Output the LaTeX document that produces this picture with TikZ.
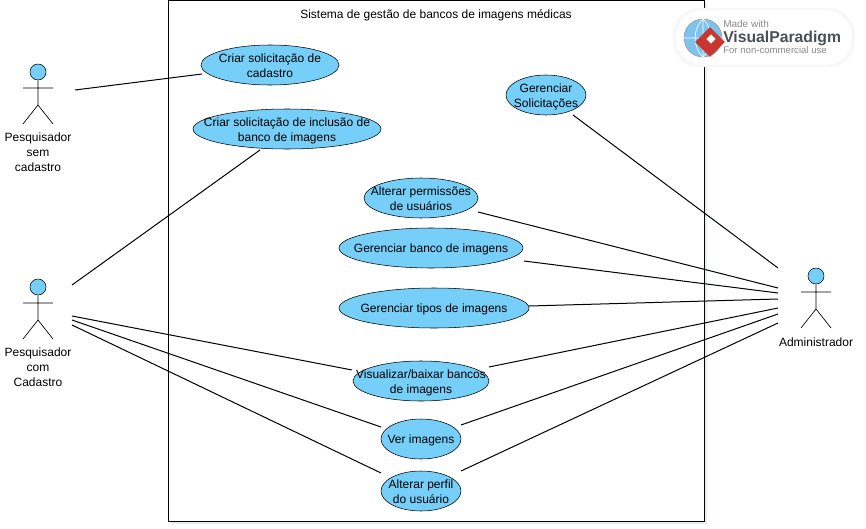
\documentclass[tikz,border=0pt]{standalone}
\usepackage{fontspec}
\setmainfont{Liberation Sans}
\usepackage{tikz}
\usetikzlibrary{shapes.geometric}
\definecolor{ucblue}{HTML}{75CFF8}
\definecolor{vpgray}{HTML}{8A8A8A}
\definecolor{vpdark}{HTML}{4A4F55}
\definecolor{vpred}{HTML}{C8362F}
\definecolor{vpglobe}{HTML}{7CC4EE}
\definecolor{shadowblue}{HTML}{E6EDF5}
\newcommand{\uctext}[1]{\smash{\makebox[0pt]{\raisebox{-3.75pt}{\begin{tabular}{@{}c@{}}#1\end{tabular}}}}}

\begin{document}
\begin{tikzpicture}[x=0.75pt,y=-0.75pt,
  font=\fontsize{9}{11.2}\selectfont,
  usecase/.style={ellipse,draw,fill=ucblue,inner sep=0pt,minimum height=30pt},
  conn/.style={black,line width=0.75pt},
  lbl/.style={align=center,inner sep=0pt},
  actor/.pic={
    \node[circle,draw,fill=ucblue,inner sep=0pt,minimum size=12pt] (-head) at (0,0) {};
    \draw[line width=0.5pt] (-head.south) -- (0,33) (-15,16) -- (15,16) (-15,52) -- (0,33) -- (15,52);
  }]
\useasboundingbox (0,0) rectangle (866,528);

% system boundary
\fill[shadowblue] (171,3) rectangle (707,524);
\node[draw,fill=white,line width=0.75pt,minimum width=402pt,minimum height=390.4pt,inner sep=0pt,outer sep=0pt] (sys) at (436,260.8) {};
\node[lbl] (title) at (436,15) {Sistema de gestão de bancos de imagens médicas};

% actors
\pic (semcad) at (38,72) {actor};
\pic (comcad) at (38,287) {actor};
\pic (admin) at (816,276) {actor};
\node[lbl] (semcadl) at (38,152.5) {Pesquisador\\sem\\cadastro};
\node[lbl] (comcadl) at (38,367.5) {Pesquisador\\com\\Cadastro};
\node[lbl] (adminl) at (816,342.5) {Administrador};

% use cases
\node[usecase,minimum width=103.5pt] (criarcad) at (270,65) {\uctext{Criar solicitação de\\cadastro}};
\node[usecase,minimum width=141pt] (inclusao) at (287,129) {\uctext{Criar solicitação de inclusão de\\banco de imagens}};
\node[usecase,minimum width=60pt] (gersol) at (546,95) {\uctext{Gerenciar\\Solicitações}};
\node[usecase,minimum width=85.5pt] (permissoes) at (421,198) {\uctext{Alterar permissões\\de usuários}};
\node[usecase,minimum width=138pt] (gerbanco) at (431,248) {\uctext{Gerenciar banco de imagens}};
\node[usecase,minimum width=142.5pt] (gertipos) at (434,308) {\uctext{Gerenciar tipos de imagens}};
\node[usecase,minimum width=102pt] (visualizar) at (421,381) {\uctext{Visualizar/baixar bancos\\de imagens}};
\node[usecase,minimum width=60pt] (verimg) at (421,439) {\uctext{Ver imagens}};
\node[usecase,minimum width=60pt] (perfil) at (421,491) {\uctext{Alterar perfil\\do usuário}};

% free ends at the actors
\coordinate (s1) at (75,90);
\coordinate (c1) at (72,285);
\coordinate (c2) at (72,316);
\coordinate (c3) at (72,320);
\coordinate (c4) at (72,325);
\coordinate (a1) at (778,268);
\coordinate (a2) at (778,288);
\coordinate (a3) at (778,293);
\coordinate (a4) at (778,299);
\coordinate (a5) at (778,308);
\coordinate (a6) at (778,314);
\coordinate (a7) at (778,323);

% connectors
\draw[conn] (s1) -- ([shift={(-68,9)}]criarcad.center);
\draw[conn] (c1) -- ([shift={(-27,21)}]inclusao.center);
\draw[conn] (c2) -- ([shift={(-69,-11)}]visualizar.center);
\draw[conn] (c3) -- ([shift={(-40,-12)}]verimg.center);
\draw[conn] (c4) -- ([shift={(-40,-18)}]perfil.center);
\draw[conn] (a1) -- ([shift={(27,20)}]gersol.center);
\draw[conn] (a2) -- ([shift={(57,14)}]permissoes.center);
\draw[conn] (a3) -- ([shift={(93,13)}]gerbanco.center);
\draw[conn] (a4) -- ([shift={(95,-2)}]gertipos.center);
\draw[conn] (a5) -- ([shift={(68,-14)}]visualizar.center);
\draw[conn] (a6) -- ([shift={(40,-14)}]verimg.center);
\draw[conn] (a7) -- ([shift={(40,-20)}]perfil.center);

% badge
\fill[black!3,rounded corners=20pt] (673,8) rectangle (855,67);
\fill[white,rounded corners=20pt] (676,10) rectangle (852,65);
\node[circle,draw=vpdark!60,fill=vpglobe,inner sep=0pt,minimum size=28.5pt] (globe) at (703,38) {};
\draw[white,line width=0.5pt] (globe.west) -- (globe.east) (globe.north) -- (globe.south)
  (globe.north) to[bend left=45] (globe.south) (globe.north) to[bend right=45] (globe.south);
\node[diamond,fill=vpred,inner sep=0pt,minimum size=22.5pt] (logo) at (710,42) {};
\node[diamond,fill=white,inner sep=0pt,minimum size=7pt] (logoin) at (711,39) {};
\node[anchor=west,inner sep=0pt,text=vpgray,font=\fontsize{7.5}{8}\selectfont] (made) at (723,24) {Made with};
\node[anchor=west,inner sep=0pt,text=vpdark,font=\fontsize{11.8}{12}\selectfont\bfseries] (vp) at (723,38) {VisualParadigm};
\node[anchor=west,inner sep=0pt,text=vpgray,font=\fontsize{7.2}{8}\selectfont] (noncom) at (723,50.5) {For non-commercial use};
\end{tikzpicture}
\end{document}
